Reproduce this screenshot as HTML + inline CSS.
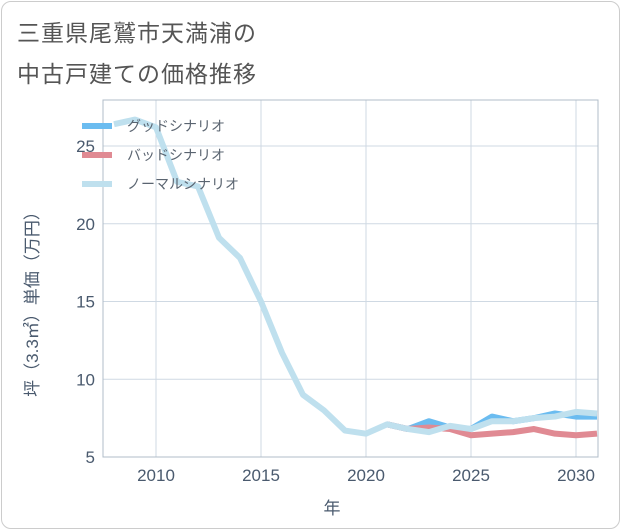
<!DOCTYPE html>
<html><head><meta charset="utf-8"><style>
body{margin:0;background:#fff;font-family:"Liberation Sans","Noto Sans CJK JP",sans-serif;}
#card{position:absolute;left:1px;top:1px;width:617px;height:526px;border:1px solid #ccc;border-radius:10px;background:#fff;}
.title{position:absolute;left:17px;font-size:23px;color:#555;letter-spacing:1px}
</style></head><body>
<div id="card"></div>
<div class="title" style="top:14px">三重県尾鷲市天満浦の</div>
<div class="title" style="top:55px">中古戸建ての価格推移</div>
<svg id="chart" width="621" height="530" style="position:absolute;left:0;top:0"></svg>
<script>
const years=[2008,2009,2010,2011,2012,2013,2014,2015,2016,2017,2018,2019,2020,2021,2022,2023,2024,2025,2026,2027,2028,2029,2030,2031];
const normalVals=[26.4,26.7,26.2,22.7,22.4,19.1,17.8,15.0,11.7,9.0,8.0,6.7,6.5,7.1,6.8,6.6,7.0,6.8,7.3,7.3,7.5,7.6,7.9,7.8];
const goodYears=[2021,2022,2023,2024,2025,2026,2027,2028,2029,2030,2031];
const goodVals=[7.1,6.8,7.3,6.9,6.8,7.6,7.3,7.5,7.8,7.6,7.6];
const badVals=[7.1,6.8,6.9,6.8,6.4,6.5,6.6,6.8,6.5,6.4,6.5];
const xTicks=[2010,2015,2020,2025,2030];
const yTicks=[5,10,15,20,25];
const L=103,R=598,T=100,B=457;
const x=v=>156+(v-2010)*21;
const y=v=>457-(v-5)*15.55;
const svg=document.getElementById('chart');
const NS='http://www.w3.org/2000/svg';
function mk(t,a){const e=document.createElementNS(NS,t);for(const k in a)e.setAttribute(k,a[k]);svg.appendChild(e);return e;}
let e;
xTicks.forEach(t=>{
 e=mk('line',{x1:x(t),x2:x(t),y1:T,y2:B,stroke:'#cfd9e3','stroke-width':1});
 
 
 e=mk('text',{x:x(t),y:481,'text-anchor':'middle','font-size':17,fill:'#4a5a6e'});e.textContent=t;
 
 
});
yTicks.forEach(t=>{
 e=mk('line',{x1:L,x2:R,y1:y(t),y2:y(t),stroke:'#cfd9e3','stroke-width':1});
 
 
 e=mk('text',{x:95,y:y(t)+6,'text-anchor':'end','font-size':17,fill:'#4a5a6e'});e.textContent=t;
 
 
});
e=mk('rect',{x:L,y:T,width:R-L,height:B-T,fill:'none',stroke:'#b0bcc8','stroke-width':1});


const clip=mk('clipPath',{id:'pc'});
const cr=document.createElementNS(NS,'rect');
cr.setAttribute('x',L);cr.setAttribute('y',T);cr.setAttribute('width',R-L);cr.setAttribute('height',B-T);
clip.appendChild(cr);
function line(xs,vs,col,name){
 const p=mk('polyline',{points:xs.map((v,i)=>x(v)+','+y(vs[i])).join(' '),fill:'none',stroke:col,'stroke-width':6,'stroke-linejoin':'round','clip-path':'url(#pc)'});
 
 
}
line(goodYears,goodVals,'#6bbcf0','good-scenario-line');
line(goodYears,badVals,'#e08a93','bad-scenario-line');
line(years,normalVals,'#bfe0ee','normal-scenario-line');
const leg=[['グッドシナリオ','#6bbcf0'],['バッドシナリオ','#e08a93'],['ノーマルシナリオ','#bfe0ee']];
leg.forEach((l,i)=>{
 const yy=126+i*29;
 e=mk('rect',{x:82,y:yy-3,width:30,height:6,fill:l[1]});
 
 
 e=mk('text',{x:127,y:yy+5,'font-size':14,fill:'#5a6470'});e.textContent=l[0];
 
 
});
e=mk('text',{x:332,y:514,'text-anchor':'middle','font-size':17,fill:'#4a5a6e'});e.textContent='年';


e=mk('text',{x:0,y:0,'text-anchor':'middle','font-size':17,fill:'#4a5a6e',transform:'translate(38,300) rotate(-90)'});e.textContent='坪（3.3㎡）単価（万円）';


</script>
</body></html>
